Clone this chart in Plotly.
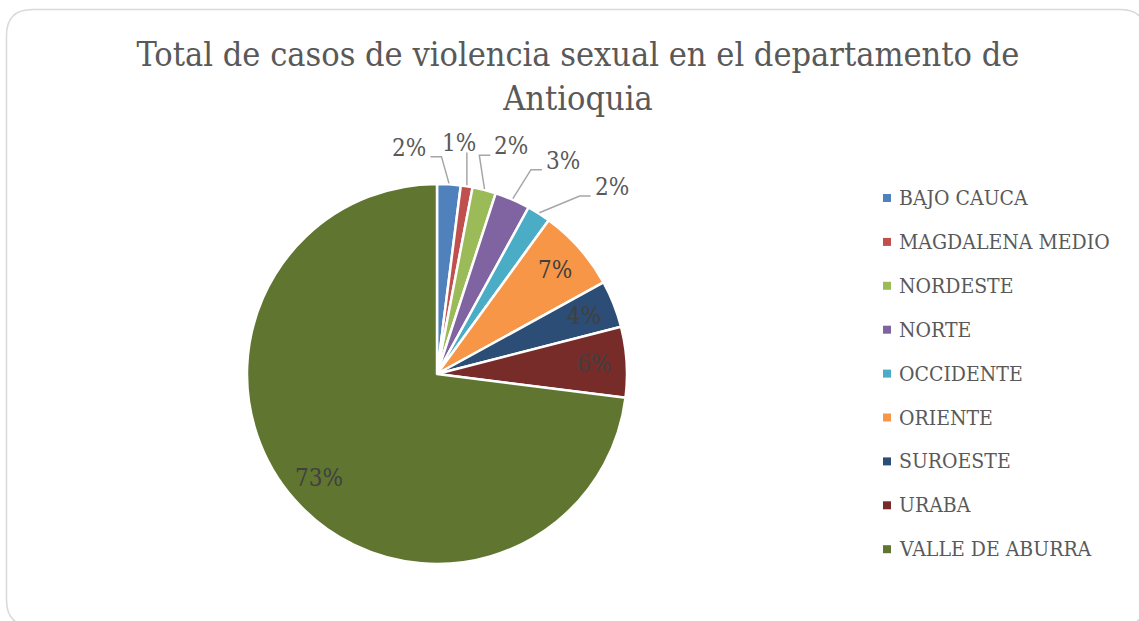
import math
import plotly.graph_objects as go

# Regiones de Antioquia y su participación (%) en el total de casos
regiones = ["BAJO CAUCA", "MAGDALENA MEDIO", "NORDESTE", "NORTE", "OCCIDENTE",
            "ORIENTE", "SUROESTE", "URABA", "VALLE DE ABURRA"]
porcentajes = [2, 1, 2, 3, 2, 7, 4, 6, 73]
colores = ["#4F81BD", "#C0504D", "#9BBB59", "#8064A2", "#4BACC6",
           "#F79646", "#2C4D75", "#772C2A", "#5F7530"]
titulo = "Total de casos de violencia sexual en el departamento de<br>Antioquia"

W, H = 1139, 621
CX, CY, R = 437, 374, 190          # centro y radio del pastel (px)
FONT = "DejaVu Serif Condensed, DejaVu Serif, serif"
GRIS = "#595959"


def px(x):
    return x / W


def py(y):
    return 1 - y / H


fig = go.Figure(go.Pie(
    labels=regiones,
    values=porcentajes,
    sort=False,
    direction="clockwise",
    rotation=0,
    marker=dict(colors=colores, line=dict(color="white", width=2.5)),
    textinfo="none",
    hoverinfo="label+percent",
    showlegend=False,
    domain=dict(x=[px(CX - R), px(CX + R)], y=[py(CY + R), py(CY - R)]),
))

annotations = []
shapes = []

# Ángulo medio de cada porción (grados, sentido horario desde las 12)
total = sum(porcentajes)
acum = 0
medios = []
for v in porcentajes:
    medios.append((acum + v / 2) / total * 360)
    acum += v

# Etiquetas interiores para las porciones grandes
pequenas = [i for i, v in enumerate(porcentajes) if v <= 3]
for i, v in enumerate(porcentajes):
    if i in pequenas:
        continue
    a = math.radians(medios[i])
    d = 0.83 * R
    annotations.append(dict(
        x=px(CX + d * math.sin(a)), y=py(CY - d * math.cos(a)),
        xref="paper", yref="paper", showarrow=False,
        text=f"{v}%", font=dict(family=FONT, size=24, color="#404040"),
        xanchor="center", yanchor="middle"))

# Etiquetas exteriores con líneas guía para las porciones pequeñas
paso = 12.5
centro = sum(medios[i] for i in pequenas) / len(pequenas) + 1.5
n = len(pequenas)
for k, i in enumerate(pequenas):
    ang = centro + (k - (n - 1) / 2) * paso
    rad = R * (1.20 + 0.0034 * max(ang, 0))
    a = math.radians(ang)
    lx, ly = CX + rad * math.sin(a), CY - rad * math.cos(a)
    texto = f"{porcentajes[i]}%"
    annotations.append(dict(
        x=px(lx), y=py(ly), xref="paper", yref="paper", showarrow=False,
        text=texto, font=dict(family=FONT, size=24, color=GRIS),
        xanchor="center", yanchor="middle"))
    m = math.radians(medios[i])
    ax, ay = CX + (R + 1) * math.sin(m), CY - (R + 1) * math.cos(m)
    ey = ly + 9
    hw = 8.5 * len(texto)
    if lx - ax > 12:
        fin = lx - hw - 4
        codo = fin - 11
        pts = [(ax, ay), (codo, ey), (fin, ey)]
    elif ax - lx > 12:
        fin = lx + hw + 4
        codo = fin + 11
        pts = [(ax, ay), (codo, ey), (fin, ey)]
    else:
        pts = [(ax, ay), (ax, ey)]
    path = "M " + " L ".join(f"{px(x)},{py(y)}" for x, y in pts)
    shapes.append(dict(type="path", xref="paper", yref="paper", path=path,
                       line=dict(color="#A6A6A6", width=1.5)))

# Leyenda
LX, LY0, LDY = 887, 198, 43.9
for i, nombre in enumerate(regiones):
    yc = LY0 + i * LDY
    shapes.append(dict(type="rect", xref="paper", yref="paper",
                       x0=px(LX - 4), x1=px(LX + 4), y0=py(yc + 4), y1=py(yc - 4),
                       fillcolor=colores[i], line=dict(width=0)))
    annotations.append(dict(
        x=px(LX + 10), y=py(yc), xref="paper", yref="paper", showarrow=False,
        text=nombre, font=dict(family=FONT, size=21, color=GRIS),
        xanchor="left", yanchor="middle"))

# Marco redondeado del gráfico
x0, y0, x1, y1, rr = 6.5, 9.5, 1146, 626, 26
marco = (f"M {px(x0 + rr)},{py(y0)} L {px(x1 - rr)},{py(y0)} "
         f"Q {px(x1)},{py(y0)} {px(x1)},{py(y0 + rr)} "
         f"L {px(x1)},{py(y1 - rr)} Q {px(x1)},{py(y1)} {px(x1 - rr)},{py(y1)} "
         f"L {px(x0 + rr)},{py(y1)} Q {px(x0)},{py(y1)} {px(x0)},{py(y1 - rr)} "
         f"L {px(x0)},{py(y0 + rr)} Q {px(x0)},{py(y0)} {px(x0 + rr)},{py(y0)} Z")
shapes.append(dict(type="path", xref="paper", yref="paper", path=marco,
                   line=dict(color="#D9D9D9", width=1.5), layer="below"))

fig.update_layout(
    width=W, height=H,
    margin=dict(l=0, r=0, t=0, b=0),
    paper_bgcolor="white",
    plot_bgcolor="white",
    title=dict(text=titulo, x=px(578), xanchor="center", y=py(66), yanchor="middle",
               font=dict(family=FONT, size=34, color=GRIS)),
    annotations=annotations,
    shapes=shapes,
)

fig.write_html("out.html")
